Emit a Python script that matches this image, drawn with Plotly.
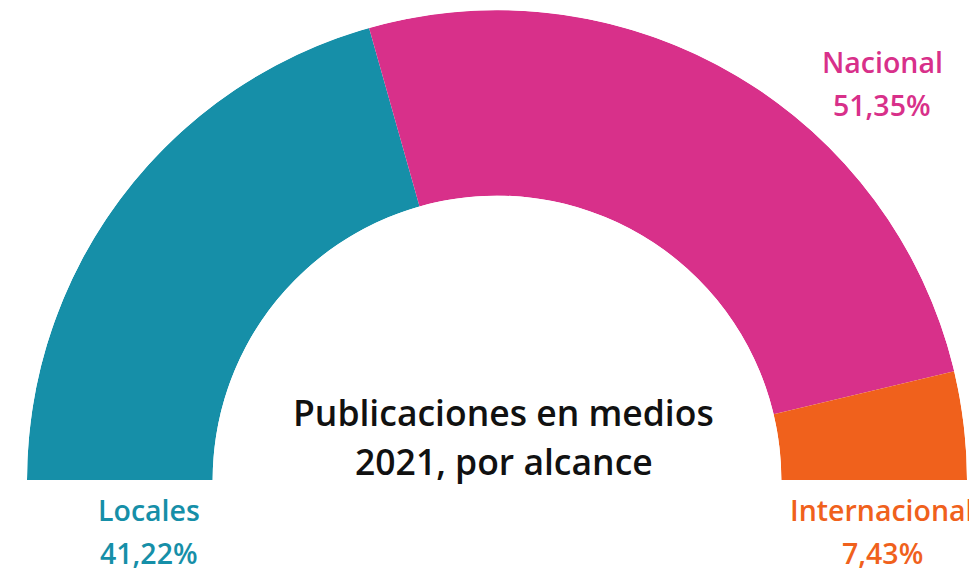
import plotly.graph_objects as go

categories = ["Locales", "Nacional", "Internacional"]
values = [41.22, 51.35, 7.43]
colors = ["#168FA8", "#D8308A", "#F0611C"]
title_lines = ["Publicaciones en medios", "2021, por alcance"]

# Convert percentages to angular spans on a half circle (180 deg), going clockwise from the left
total = sum(values)
widths = [v / total * 180 for v in values]
thetas = []
start = 180.0
for w in widths:
    thetas.append(start - w / 2)
    start -= w

fig = go.Figure()
fig.add_trace(go.Barpolar(
    r=[1] * len(values),
    theta=thetas,
    width=widths,
    marker=dict(color=colors, line=dict(width=0)),
    hoverinfo="skip",
    showlegend=False,
))

W, H = 977, 574
def px(x):
    return x / W
def py(y):
    return 1 - y / H

fig.update_layout(
    width=W, height=H,
    margin=dict(l=0, r=0, t=0, b=0),
    paper_bgcolor="white",
    plot_bgcolor="white",
    polar=dict(
        domain=dict(x=[px(15), px(963)], y=[py(472), py(2)]),
        sector=[0, 180],
        hole=0.605,
        bgcolor="white",
        radialaxis=dict(visible=False, range=[0, 1]),
        angularaxis=dict(visible=False),
        bargap=0,
    ),
)

label_font = dict(family="Open Sans", size=28.5, weight=600)
label_pos = {
    "Locales": (141, 502, 545),
    "Nacional": (874, 54, 97),
    "Internacional": (874, 502, 545),
}
for cat, val, col in zip(categories, values, colors):
    x, y1, y2 = label_pos[cat]
    fig.add_annotation(x=px(x), y=py(y1), xref="paper", yref="paper", text=cat,
                       showarrow=False, xanchor="center", yanchor="middle",
                       font=dict(color=col, **label_font))
    fig.add_annotation(x=px(x), y=py(y2), xref="paper", yref="paper",
                       text=f"{val:.2f}".replace(".", ",") + "%",
                       showarrow=False, xanchor="center", yanchor="middle",
                       font=dict(color=col, **label_font))

for line, y in zip(title_lines, [404, 453]):
    fig.add_annotation(x=px(496), y=py(y), xref="paper", yref="paper", text=line,
                       showarrow=False, xanchor="center", yanchor="middle",
                       font=dict(family="Open Sans", size=35.5, weight=600, color="#111111"))

fig.write_html("out.html")
